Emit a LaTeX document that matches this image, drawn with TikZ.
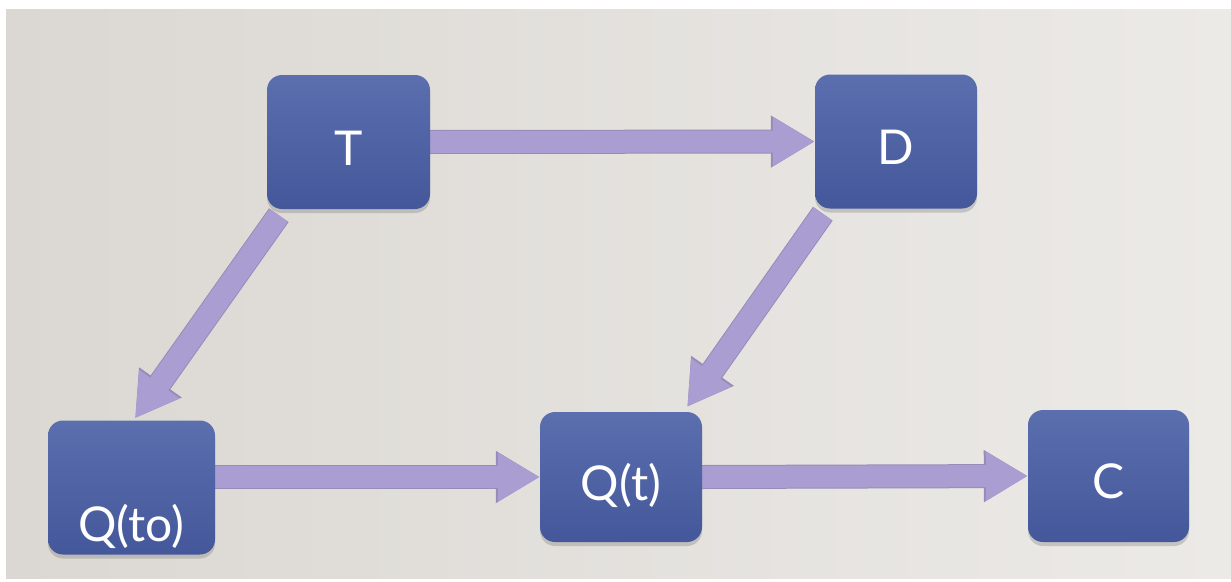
\documentclass[tikz,border=0pt]{standalone}
\usepackage{fontspec}
\newfontfamily\labelfont{Lato}
\usetikzlibrary{arrows.meta,shadows,calc}
\pgfdeclarelayer{bg}
\pgfsetlayers{bg,main}
\definecolor{boxtop}{HTML}{5B6FAF}
\definecolor{boxbot}{HTML}{43579A}
\definecolor{arrowfill}{HTML}{AA9DD2}
\definecolor{arrowedge}{HTML}{968CB8}
\definecolor{bgleft}{HTML}{DBD8D3}
\definecolor{bgright}{HTML}{ECEAE7}
\begin{document}
\begin{tikzpicture}[x=1pt,y=-1pt,
  stagebox/.style={rounded corners=15pt, top color=boxtop, bottom color=boxbot,
    text=white, font=\labelfont\fontsize{48}{48}\selectfont,
    minimum width=163pt, inner xsep=0pt, inner ysep=0pt,
    text height=90pt, text depth=44pt,
    drop shadow={shadow xshift=0pt, shadow yshift=-4pt, opacity=0.35}},
  flow/.style={line width=22pt, draw=arrowfill, -{Triangle[width=46pt,length=42pt]},
    preaction={draw=arrowedge, line width=24pt, -{Triangle[width=49pt,length=44pt]}}}
]
\useasboundingbox (0,0) rectangle (1231,581);
\begin{pgfonlayer}{bg}
  \fill[white] (0,0) rectangle (1231,581);
  \shade[left color=bgleft, right color=bgright] (6,9) rectangle (1231,578);
\end{pgfonlayer}

\node[stagebox] (T) at (348.5,142) {T};
\node[stagebox, minimum width=162pt] (D) at (896,141.5) {D};
\node[stagebox, minimum width=167pt, text height=121pt, text depth=13pt] (Qto) at (131.5,487.5) {Q(to)};
\node[stagebox, minimum width=162pt, text height=88pt, text depth=42pt] (Qt) at (621,477) {Q(t)};
\node[stagebox, minimum width=161pt, text height=88pt, text depth=44pt] (C) at (1108.5,476) {C};

\begin{pgfonlayer}{bg}
  \draw[flow] (T.east) -- (D.west);
  \draw[flow] ($(T.south west)+(12,6)$) -- ($(Qto.north)+(3.5,-2)$);
  \draw[flow] ($(D.south west)+(8,5)$) -- ($(Qt.north east)+(-15,-5)$);
  \draw[flow] (Qto.east |- Qt.west) -- (Qt.west);
  \draw[flow] (Qt.east) -- (C.west);
\end{pgfonlayer}
\end{tikzpicture}
\end{document}
